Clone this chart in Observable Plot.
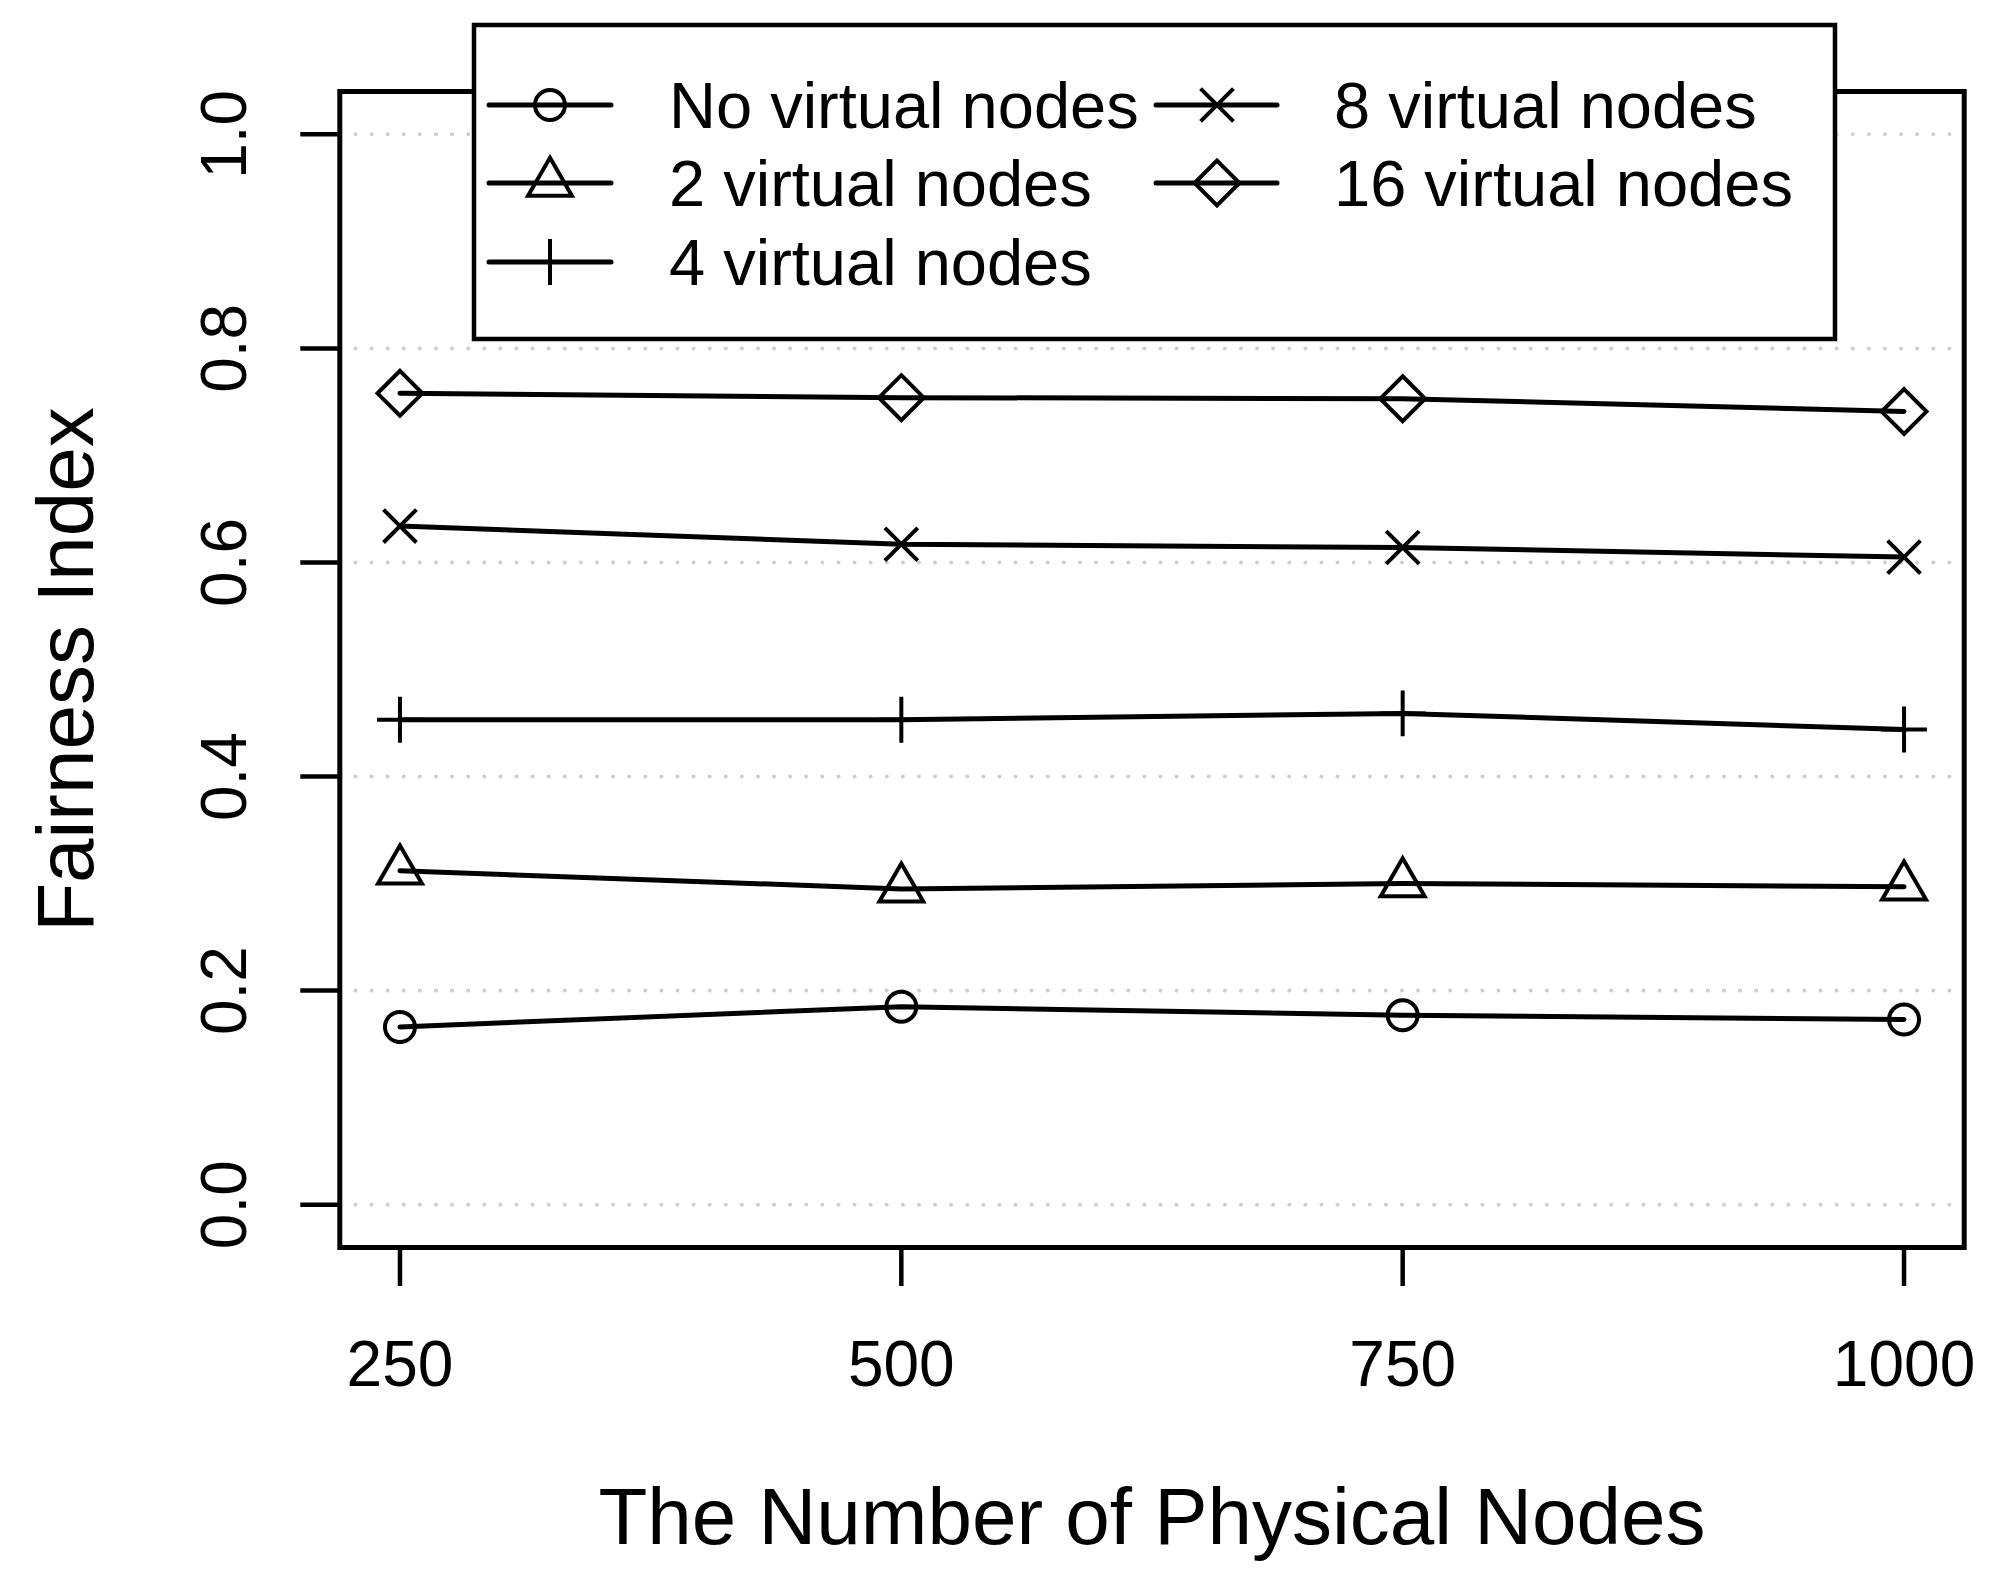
<!DOCTYPE html>
<html><head><meta charset="utf-8">
<script src="https://cdn.jsdelivr.net/npm/d3@7"></script>
<script src="https://cdn.jsdelivr.net/npm/@observablehq/plot@0.6"></script>
<style>
html,body{margin:0;padding:0;background:#fff;}
#chart svg{display:block;}
</style></head><body><div id="chart"></div>
<script>
// ---- data ----
const nodes = [250, 500, 750, 1000];
const seriesNames = ["No virtual nodes", "2 virtual nodes", "4 virtual nodes", "8 virtual nodes", "16 virtual nodes"];
const noVirtual = [0.166, 0.185, 0.177, 0.173];
const virtual2 = [0.312, 0.295, 0.300, 0.297];
const virtual4 = [0.453, 0.453, 0.459, 0.444];
const virtual8 = [0.634, 0.617, 0.614, 0.605];
const virtual16 = [0.758, 0.754, 0.753, 0.741];
const xTicks = [250, 500, 750, 1000];
const yTicks = [0, 0.2, 0.4, 0.6, 0.8, 1.0];
const xLabel = "The Number of Physical Nodes";
const yLabel = "Fairness Index";

// ---- styles ----
const symbolNames = ["circle", "triangle", "plus", "times", "diamond2"];
const symbolR = [15, 16.3, 14.8, 15, 20.2];
const font = "'Liberation Sans', Arial, Helvetica, sans-serif";

const values = [noVirtual, virtual2, virtual4, virtual8, virtual16];
const series = seriesNames.map((name, i) => ({
  name,
  rows: nodes.map((x, j) => ({x, y: values[i][j], series: name}))
}));

const svg = Plot.plot({
  width: 2008,
  height: 1575,
  marginLeft: 339.3,
  marginRight: 44.3,
  marginTop: 91,
  marginBottom: 328,
  style: {fontFamily: font, fontSize: "64px", background: "white", color: "black"},
  x: {domain: [220, 1030]},
  y: {domain: [-0.04, 1.04]},
  marks: [
    Plot.ruleY(yTicks, {stroke: "#cfcfcf", strokeWidth: 4, strokeDasharray: "0.1,16", strokeLinecap: "round"}),
    ...series.map(s => Plot.line(s.rows, {x: "x", y: "y", stroke: "black", strokeWidth: 5, strokeLinejoin: "round", strokeLinecap: "round"})),
    ...series.map((s, i) => Plot.dot(s.rows, {x: "x", y: "y", symbol: symbolNames[i], r: symbolR[i], stroke: "black", strokeWidth: 4, fill: "none"})),
    Plot.frame({stroke: "black", strokeWidth: 5}),
    Plot.axisX({ticks: xTicks, tickSize: 39, tickPadding: 54, strokeWidth: 4.5, fontSize: 64, label: null, tickFormat: d => String(d)}),
    Plot.axisY({ticks: yTicks, tickSize: 39, tickPadding: 55, tickRotate: -90, strokeWidth: 4.5, fontSize: 64, label: null, tickFormat: d3.format(".1f")}),
    Plot.text([xLabel], {text: d => d, frameAnchor: "bottom", lineAnchor: "bottom", dy: 296, fontSize: 80}),
    Plot.text([yLabel], {text: d => d, frameAnchor: "left", textAnchor: "middle", rotate: -90, lineAnchor: "bottom", dx: -247, fontSize: 80})
  ]
});

// ---- legend (drawn on top of the plot, as in the original) ----
const d3Symbols = {circle: d3.symbolCircle, triangle: d3.symbolTriangle, plus: d3.symbolPlus, times: d3.symbolTimes, diamond2: d3.symbolDiamond2};
const lg = d3.select(svg).append("g").attr("font-family", font).attr("text-anchor", "start");
lg.append("rect").attr("x", 474).attr("y", 25).attr("width", 1361).attr("height", 314)
  .attr("fill", "white").attr("stroke", "black").attr("stroke-width", 4.5);
const rowY = [105, 183, 262];
const cols = [{x1: 489, x2: 611, sx: 550, tx: 669}, {x1: 1156, x2: 1277, sx: 1217, tx: 1334}];
seriesNames.forEach((name, i) => {
  const c = cols[i < 3 ? 0 : 1];
  const y = rowY[i < 3 ? i : i - 3];
  lg.append("line").attr("x1", c.x1).attr("x2", c.x2).attr("y1", y).attr("y2", y)
    .attr("stroke", "black").attr("stroke-width", 5).attr("stroke-linecap", "round");
  lg.append("path").attr("transform", `translate(${c.sx},${y})`)
    .attr("d", d3.symbol(d3Symbols[symbolNames[i]], Math.PI * symbolR[i] * symbolR[i])())
    .attr("fill", "none").attr("stroke", "black").attr("stroke-width", 4);
  lg.append("text").attr("x", c.tx).attr("y", y + 23).attr("font-size", 65).attr("fill", "black")
    .attr("text-anchor", "start").text(name);
});

document.getElementById("chart").appendChild(svg);
</script>
</body></html>
